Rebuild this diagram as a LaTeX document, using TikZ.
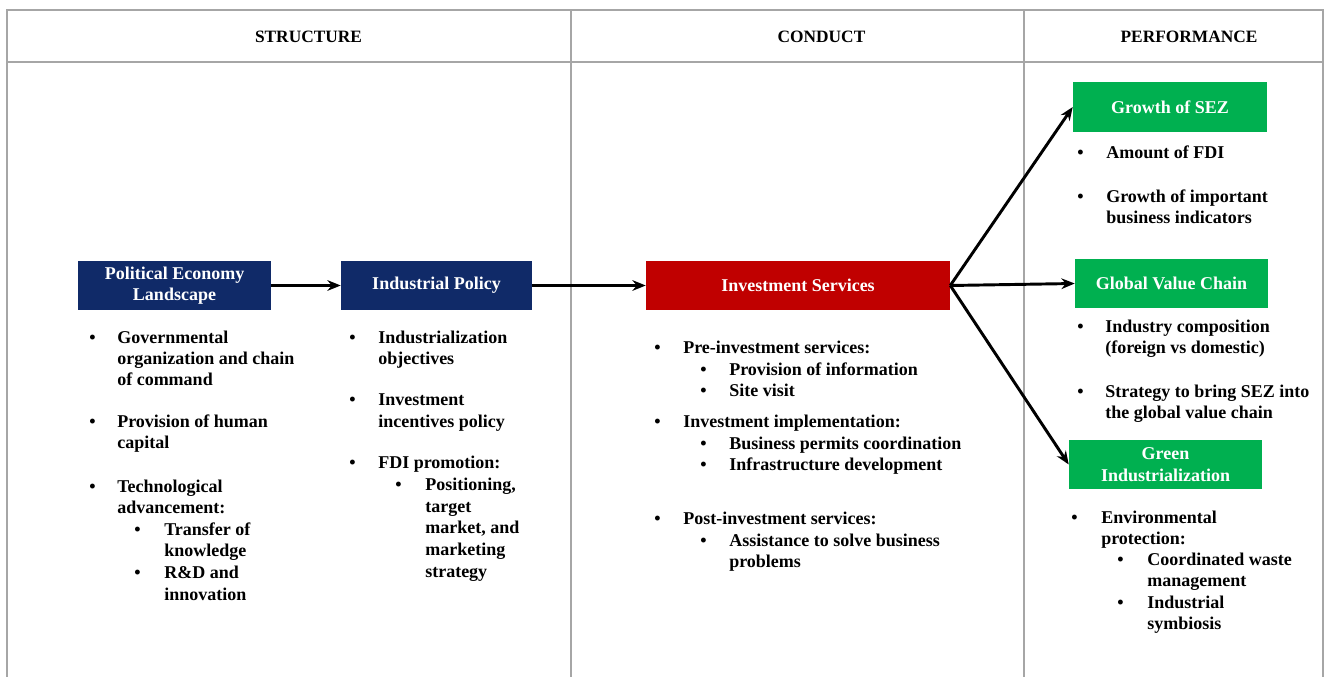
\documentclass[tikz,border=0pt]{standalone}
\usepackage{fontspec}
\setmainfont{Liberation Serif}
\usetikzlibrary{arrows.meta}
\definecolor{navy}{RGB}{16,42,104}
\definecolor{sred}{RGB}{192,0,0}
\definecolor{sgreen}{RGB}{0,176,80}
\definecolor{framegray}{RGB}{166,166,166}
\begin{document}
\begin{tikzpicture}[x=0.75pt,y=-0.75pt,
  txt/.style={anchor=base west,inner sep=0pt,font=\bfseries\fontsize{13.5}{16}\selectfont},
  hdr/.style={anchor=center,inner sep=0pt,font=\bfseries\fontsize{13}{16}\selectfont},
  box/.style={inner sep=0pt,text=white,align=center,font=\bfseries\fontsize{13.5}{16.2}\selectfont},
  gridline/.style={draw=framegray,line width=1.8pt},
  arr/.style={-{Stealth[length=10pt,width=8pt]},line width=2.2pt}]
\useasboundingbox (0,0) rectangle (1327,677);
% table frame
\draw[gridline] (7,677) -- (7,10) -- (1323,10) -- (1323,677);
\draw[gridline] (7,62) -- (1323,62);
\draw[gridline] (571,10) -- (571,677);
\draw[gridline] (1024,10) -- (1024,677);
% headers
\node[hdr] (h1) at (308.5,37) {STRUCTURE};
\node[hdr] (h2) at (821.5,37) {CONDUCT};
\node[hdr] (h3) at (1189,37) {PERFORMANCE};
% boxes
\node[box,fill=navy,minimum width=144.75pt,minimum height=36.75pt] (pel) at (174.5,285.5) {Political Economy\\Landscape};
\node[box,fill=navy,minimum width=143.25pt,minimum height=36.75pt] (ip) at (436.5,285.5) {Industrial Policy};
\node[box,fill=sred,minimum width=228pt,minimum height=36.75pt] (is) at (798,285.5) {Investment Services};
\node[box,fill=sgreen,minimum width=145.5pt,minimum height=37.5pt] (gsez) at (1170,107) {Growth of SEZ};
\node[box,fill=sgreen,minimum width=144.75pt,minimum height=36.75pt] (gvc) at (1171.5,283.5) {Global Value Chain};
\node[box,fill=sgreen,minimum width=144.75pt,minimum height=36.75pt] (gi) at (1165.5,464.5) {Green\\Industrialization};
% arrows
\draw[arr] (pel.east) -- (ip.west);
\draw[arr] (ip.east) -- (is.west);
\draw[arr] (is.east) -- (gsez.west);
\draw[arr] (is.east) -- (gvc.west);
\draw[arr] (is.east) -- (gi.west);
% column 1
\node[txt] (b11) at (89,343) {\textbullet};
\node[txt] (t11a) at (117,343) {Governmental};
\node[txt] (t11b) at (117,364) {organization and chain};
\node[txt] (t11c) at (117,385) {of command};
\node[txt] (b12) at (89,427) {\textbullet};
\node[txt] (t12a) at (117,427) {Provision of human};
\node[txt] (t12b) at (117,448) {capital};
\node[txt] (b13) at (89,492) {\textbullet};
\node[txt] (t13a) at (117,492) {Technological};
\node[txt] (t13b) at (117,513) {advancement:};
\node[txt] (b131) at (134,535) {\textbullet};
\node[txt] (t131a) at (164,535) {Transfer of};
\node[txt] (t131b) at (164,556) {knowledge};
\node[txt] (b132) at (134,578) {\textbullet};
\node[txt] (t132a) at (164,578) {R\&D and};
\node[txt] (t132b) at (164,600) {innovation};
% column 2
\node[txt] (b21) at (349,343) {\textbullet};
\node[txt] (t21a) at (378,343) {Industrialization};
\node[txt] (t21b) at (378,364) {objectives};
\node[txt] (b22) at (349,405) {\textbullet};
\node[txt] (t22a) at (378,405) {Investment};
\node[txt] (t22b) at (378,427) {incentives policy};
\node[txt] (b23) at (349,468) {\textbullet};
\node[txt] (t23a) at (378,468) {FDI promotion:};
\node[txt] (b231) at (395,490) {\textbullet};
\node[txt] (t231a) at (425,490) {Positioning,};
\node[txt] (t231b) at (425,512) {target};
\node[txt] (t231c) at (425,533) {market, and};
\node[txt] (t231d) at (425,555) {marketing};
\node[txt] (t231e) at (425,577) {strategy};
% column 3
\node[txt] (b31) at (654,353) {\textbullet};
\node[txt] (t31) at (683,353) {Pre-investment services:};
\node[txt] (b311) at (700,375) {\textbullet};
\node[txt] (t311) at (729,375) {Provision of information};
\node[txt] (b312) at (700,396) {\textbullet};
\node[txt] (t312) at (729,396) {Site visit};
\node[txt] (b32) at (654,427) {\textbullet};
\node[txt] (t32) at (683,427) {Investment implementation:};
\node[txt] (b321) at (700,449) {\textbullet};
\node[txt] (t321) at (729,449) {Business permits coordination};
\node[txt] (b322) at (700,470) {\textbullet};
\node[txt] (t322) at (729,470) {Infrastructure development};
\node[txt] (b33) at (654,524) {\textbullet};
\node[txt] (t33) at (683,524) {Post-investment services:};
\node[txt] (b331) at (700,546) {\textbullet};
\node[txt] (t331a) at (729,546) {Assistance to solve business};
\node[txt] (t331b) at (729,567) {problems};
% column 4
\node[txt] (b41) at (1077,159) {\textbullet};
\node[txt] (t41) at (1106,159) {Amount of FDI};
\node[txt] (b42) at (1077,203) {\textbullet};
\node[txt] (t42a) at (1106,203) {Growth of important};
\node[txt] (t42b) at (1106,224) {business indicators};
\node[txt] (b43) at (1077,332) {\textbullet};
\node[txt] (t43a) at (1105,332) {Industry composition};
\node[txt] (t43b) at (1105,353) {(foreign vs domestic)};
\node[txt] (b44) at (1077,397) {\textbullet};
\node[txt] (t44a) at (1105,397) {Strategy to bring SEZ into};
\node[txt] (t44b) at (1105,418) {the global value chain};
\node[txt] (b45) at (1071,523) {\textbullet};
\node[txt] (t45a) at (1101,523) {Environmental};
\node[txt] (t45b) at (1101,544) {protection:};
\node[txt] (b451) at (1117,565) {\textbullet};
\node[txt] (t451a) at (1147,565) {Coordinated waste};
\node[txt] (t451b) at (1147,586) {management};
\node[txt] (b452) at (1117,608) {\textbullet};
\node[txt] (t452a) at (1147,608) {Industrial};
\node[txt] (t452b) at (1147,629) {symbiosis};
\end{tikzpicture}
\end{document}
